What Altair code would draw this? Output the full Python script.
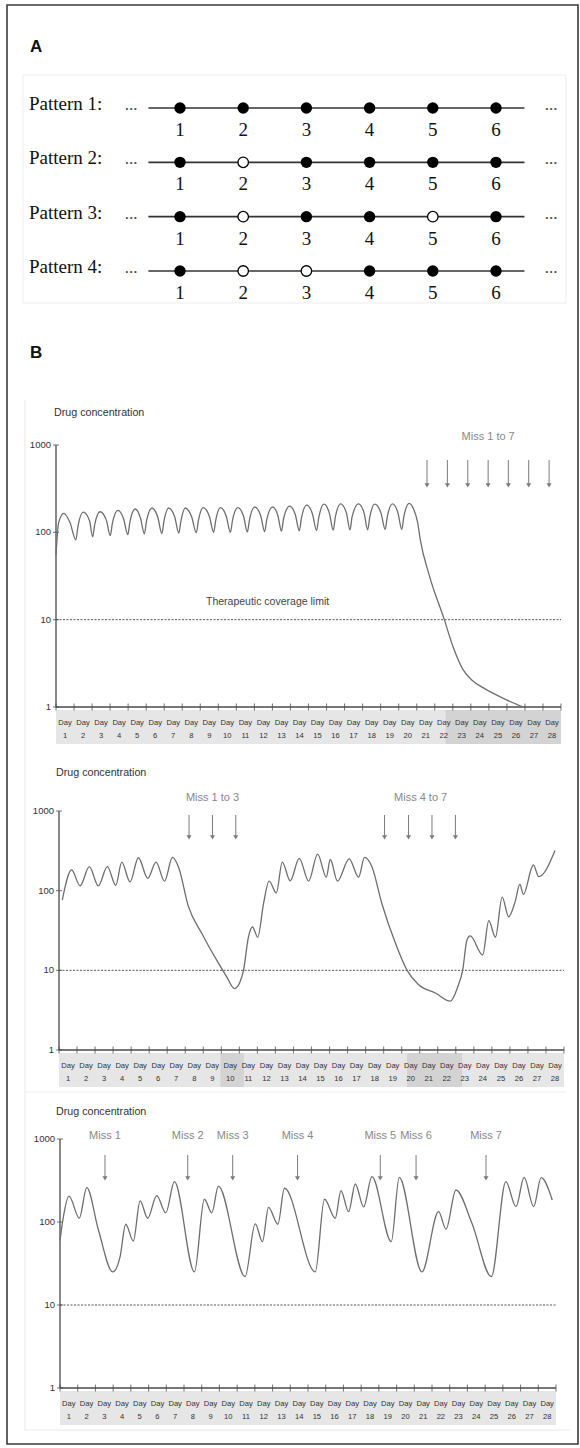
import altair as alt
import pandas as pd

# ---------------- Panel A data ----------------
pattern_names = ["Pattern 1:", "Pattern 2:", "Pattern 3:", "Pattern 4:"]
dose_numbers = [1, 2, 3, 4, 5, 6]
missed_doses = [[], [2], [2, 5], [2, 3]]
line_from_dose = 0.5
line_to_dose = 6.45

# ---------------- Panel B data ----------------
y_ticks = [1, 10, 100, 1000]
y_tick_labels = ["1", "10", "100", "1000"]
day_numbers = list(range(1, 29))
threshold = 10

# chart 1: all doses taken, then miss 1 to 7
days1 = [0.00, 0.15, 0.43, 0.78, 1.10, 1.22, 1.51, 1.86, 2.03, 2.15, 2.44, 2.79, 3.01, 3.13,
         3.43, 3.75, 3.98, 4.10, 4.39, 4.68, 4.90, 5.02, 5.32, 5.64, 5.87, 5.99, 6.24, 6.58,
         6.81, 6.93, 7.16, 7.52, 7.78, 7.90, 8.15, 8.50, 8.74, 8.86, 9.11, 9.44, 9.67, 9.79,
         10.08, 10.40, 10.61, 10.73, 11.02, 11.35, 11.57, 11.69, 12.01, 12.30, 12.50, 12.62,
         12.95, 13.27, 13.49, 13.61, 13.90, 14.22, 14.45, 14.57, 14.86, 15.16, 15.37, 15.49,
         15.78, 16.10, 16.30, 16.42, 16.77, 17.08, 17.28, 17.40, 17.67, 18.02, 18.25, 18.37,
         18.66, 18.96, 19.17, 19.29, 19.58, 19.85, 20.05, 20.20, 20.70, 21.53, 22.00, 22.56,
         23.10, 23.60, 24.20, 25.00, 25.90]
conc1 = [55, 130, 165, 129, 82, 118, 170, 136, 89, 124, 172, 138, 92, 128,
         178, 142, 94, 132, 185, 147, 96, 135, 190, 150, 97, 136, 190, 151,
         98, 136, 190, 151, 99, 138, 192, 153, 100, 139, 192, 153, 100, 139,
         192, 153, 101, 140, 195, 155, 102, 141, 195, 156, 103, 144,
         200, 159, 104, 146, 205, 162, 105, 148, 210, 165, 106, 150,
         212, 167, 107, 151, 212, 167, 107, 150, 210, 166, 108, 151,
         212, 167, 108, 152, 215, 180, 130, 82, 32, 10, 5.0, 2.7,
         2.0, 1.7, 1.45, 1.2, 1.0]
miss1_days = [20.57, 21.70, 22.83, 23.96, 25.08, 26.21, 27.34]
miss1_labels = ["Miss 1 to 7"]
miss1_label_days = [23.96]
below1_from = [21.6]
below1_to = [28.0]
limit_label = ["Therapeutic coverage limit"]
limit_label_day = [11.73]

# chart 2: miss 1 to 3, then miss 4 to 7
days2 = [0.18, 0.70, 1.17, 1.68, 2.18, 2.68, 3.15, 3.48, 3.94, 4.40, 4.92, 5.38, 5.85, 6.29,
         6.62, 7.18, 7.92, 8.84, 9.30, 9.73, 10.04, 10.23, 10.50, 10.73, 11.02, 11.34, 11.65,
         12.05, 12.38, 12.82, 13.32, 13.84, 14.34, 14.82, 15.04, 15.44, 16.09, 16.61, 16.94,
         17.35, 17.90, 18.65, 19.30, 19.94, 20.87, 21.70, 22.12, 22.38, 22.62, 22.80, 23.49,
         23.83, 24.20, 24.57, 24.93, 25.30, 25.55, 25.75, 26.30, 26.60, 27.50]
conc2 = [76, 182, 115, 200, 115, 200, 117, 228, 129, 259, 143, 228, 132, 261,
         200, 63, 29, 12.3, 8.3, 5.9, 7.2, 10, 26, 35, 26, 69, 132,
         94, 228, 133, 255, 132, 287, 148, 246, 132, 250, 148, 261,
         200, 69, 22, 10, 6.6, 5.2, 4.1, 6.3, 10, 24, 27, 15.6,
         42, 26, 83, 47, 74, 120, 90, 210, 150, 320]
miss2_days = [7.21, 8.51, 9.80, 18.05, 19.38, 20.68, 21.98]
miss2_labels = ["Miss 1 to 3", "Miss 4 to 7"]
miss2_label_days = [8.51, 20.05]
below2_from = [8.95, 19.3]
below2_to = [10.25, 22.35]

# chart 3: seven scattered misses
days3 = [0.00, 0.19, 0.51, 1.09, 1.51, 2.17, 2.98, 3.39, 3.71, 4.14, 4.52, 4.95, 5.46, 5.97,
         6.46, 7.59, 8.15, 8.57, 8.94, 10.45, 11.02, 11.43, 11.77, 12.30, 12.67, 14.41, 14.93,
         15.54, 15.86, 16.29, 16.67, 17.14, 17.61, 18.70, 19.15, 20.43, 21.37, 21.79, 22.35,
         23.26, 24.35, 25.17, 25.74, 26.20, 26.74, 27.16, 27.79]
conc3 = [60, 115, 205, 111, 259, 80, 25, 38, 94, 59, 180, 111, 208, 129,
         306, 25, 188, 129, 270, 22, 95, 58, 150, 94, 255, 25, 188,
         111, 239, 133, 287, 152, 352, 58, 345, 25, 133, 82, 243,
         96, 22, 306, 153, 345, 153, 342, 184]
miss3_days = [2.54, 7.21, 9.75, 13.41, 18.08, 20.10, 24.05]
miss3_labels = ["Miss 1", "Miss 2", "Miss 3", "Miss 4", "Miss 5", "Miss 6", "Miss 7"]
miss3_label_days = [2.54, 7.21, 9.75, 13.41, 18.08, 20.10, 24.05]
below3_from = []
below3_to = []

# ---------------- styling ----------------
SANS = "'Liberation Sans', Arial, sans-serif"
SERIF = "'Liberation Serif', 'Times New Roman', serif"
AXIS_C = "#4a4a4a"
CURVE_C = "#6e6e6e"
ARROW_C = "#7c7c7c"

ONE = pd.DataFrame({"k": [0]})


def deco_rect(x, x2, y, y2, **kw):
    return alt.Chart(ONE).mark_rect(**kw).encode(
        x=alt.value(x), x2=alt.value(x2), y=alt.value(y), y2=alt.value(y2))


def deco_hline(x, x2, y, **kw):
    return alt.Chart(ONE).mark_rule(**kw).encode(x=alt.value(x), x2=alt.value(x2), y=alt.value(y))


def deco_vline(x, y, y2, **kw):
    return alt.Chart(ONE).mark_rule(**kw).encode(x=alt.value(x), y=alt.value(y), y2=alt.value(y2))


def deco_text(x, y, text, **kw):
    return alt.Chart(pd.DataFrame({"t": [text]})).mark_text(**kw).encode(
        x=alt.value(x), y=alt.value(y), text="t:N")


layers = []

# outer frame and faint image borders
layers.append(deco_rect(7, 578, 5, 1444, fill="white", fillOpacity=0, stroke="#3a3a3a", strokeWidth=1.6))
layers.append(deco_rect(23, 566, 75, 303, fill="white", fillOpacity=0, stroke="#ededed", strokeWidth=1))
layers.append(deco_vline(25, 400, 1430, color="#e6e6e6", strokeWidth=1))
layers.append(deco_hline(25, 570, 1430, color="#e8e8e8", strokeWidth=1))
layers.append(deco_hline(25, 566, 1092, color="#eeeeee", strokeWidth=1))

# panel letters
layers.append(deco_text(30, 47, "A", font=SANS, fontSize=17, fontWeight="bold", align="left",
                        baseline="middle", color="#111"))
layers.append(deco_text(30, 353, "B", font=SANS, fontSize=17, fontWeight="bold", align="left",
                        baseline="middle", color="#111"))

# ---------------- Panel A ----------------
xa = alt.Scale(domain=[1, 6], range=[180, 496], nice=False, zero=False)
ya = alt.Scale(domain=[1, 4], range=[108, 271], nice=False, zero=False)

rows = []
for i, name in enumerate(pattern_names):
    for d in dose_numbers:
        rows.append({"row": i + 1, "dose": d, "num": str(d), "taken": d not in missed_doses[i]})
dots = pd.DataFrame(rows)
lines_a = pd.DataFrame({"row": [i + 1 for i in range(len(pattern_names))],
                        "a": line_from_dose, "b": line_to_dose,
                        "name": pattern_names})

XA = alt.X("dose:Q", scale=xa, axis=None)
YA = alt.Y("row:Q", scale=ya, axis=None)

layers.append(alt.Chart(lines_a).mark_rule(color="#333", strokeWidth=1.6).encode(
    x=alt.X("a:Q", scale=xa, axis=None), x2="b:Q", y=YA))
layers.append(alt.Chart(dots[dots.taken]).mark_circle(color="#000", size=130, opacity=1).encode(x=XA, y=YA))
layers.append(alt.Chart(dots[~dots.taken]).mark_circle(fill="white", stroke="#000", strokeWidth=1.3,
                                                       size=110, opacity=1).encode(x=XA, y=YA))
layers.append(alt.Chart(dots).mark_text(font=SERIF, fontSize=19, color="#111", baseline="alphabetic",
                                        dy=28).encode(x=XA, y=YA, text="num:N"))
layers.append(alt.Chart(lines_a).mark_text(font=SERIF, fontSize=19, color="#111", align="left",
                                           baseline="alphabetic", dy=2).encode(
    x=alt.value(29), y=YA, text="name:N"))
dots_txt = pd.DataFrame({"row": [i + 1 for i in range(len(pattern_names))], "t": "..."})
layers.append(alt.Chart(dots_txt).mark_text(font=SERIF, fontSize=17, color="#444", align="center",
                                            baseline="alphabetic", dy=2).encode(
    x=alt.value(131), y=YA, text="t:N"))
layers.append(alt.Chart(dots_txt).mark_text(font=SERIF, fontSize=17, color="#444", align="center",
                                            baseline="alphabetic", dy=2).encode(
    x=alt.value(551), y=YA, text="t:N"))


# ---------------- Panel B ----------------
def conc_layers(x0, x1, ytop, ybot, days, conc, miss_days, miss_labels, miss_label_days,
                below_from, below_to, title_x, title_y, label_y, arrow_top, arrow_tip,
                extra_label=None, extra_day=None):
    xs = alt.Scale(domain=[0, 28], range=[x0, x1], nice=False, zero=False)
    ys = alt.Scale(type="log", domain=[1, 1000], range=[ybot, ytop], nice=False)

    def X(f):
        return alt.X(f, type="quantitative", scale=xs, axis=None)

    def Y(f):
        return alt.Y(f, type="quantitative", scale=ys, axis=None)

    out = []
    # day label band
    out.append(alt.Chart(pd.DataFrame({"a": [0], "b": [28]})).mark_rect(color="#e6e6e6").encode(
        x=X("a"), x2="b:Q", y=alt.value(ybot + 3), y2=alt.value(ybot + 37)))
    if below_from:
        out.append(alt.Chart(pd.DataFrame({"a": below_from, "b": below_to})).mark_rect(color="#d3d3d3").encode(
            x=X("a"), x2="b:Q", y=alt.value(ybot + 3), y2=alt.value(ybot + 37)))
    labs = pd.DataFrame({"mid": [d - 0.5 for d in day_numbers],
                         "lab": ["Day\n" + str(d) for d in day_numbers]})
    out.append(alt.Chart(labs).mark_text(font=SANS, fontSize=7.6, color="#333", lineBreak="\n",
                                         lineHeight=13, baseline="top", align="center").encode(
        x=X("mid"), y=alt.value(ybot + 12), text="lab:N"))
    # threshold
    out.append(alt.Chart(pd.DataFrame({"a": [0], "b": [28], "c": [threshold]})).mark_rule(
        color="#555", strokeWidth=1, strokeDash=[2, 1.5]).encode(x=X("a"), x2="b:Q", y=Y("c")))
    # axes
    out.append(alt.Chart(pd.DataFrame({"x": [0], "y1": [1], "y2": [1000]})).mark_rule(
        color=AXIS_C, strokeWidth=1.3).encode(x=X("x"), y=Y("y1"), y2="y2:Q"))
    out.append(alt.Chart(pd.DataFrame({"a": [0], "b": [28], "y": [1]})).mark_rule(
        color=AXIS_C, strokeWidth=1.5).encode(x=X("a"), x2="b:Q", y=Y("y")))
    out.append(alt.Chart(pd.DataFrame({"d": list(range(0, 29)), "y": 1})).mark_tick(
        orient="vertical", size=7, thickness=1.1, color=AXIS_C).encode(x=X("d"), y=Y("y")))
    yt = pd.DataFrame({"x": 0, "v": y_ticks, "lab": y_tick_labels})
    out.append(alt.Chart(yt).mark_tick(orient="horizontal", size=6, thickness=1.1, color=AXIS_C).encode(
        x=X("x"), y=Y("v")))
    out.append(alt.Chart(yt).mark_text(font=SANS, fontSize=9.5, color="#333", align="right",
                                       baseline="middle", dx=-5).encode(x=X("x"), y=Y("v"), text="lab:N"))
    # curve
    out.append(alt.Chart(pd.DataFrame({"day": days, "conc": conc})).mark_line(
        interpolate="monotone", color=CURVE_C, strokeWidth=1.3).encode(x=X("day"), y=Y("conc")))
    # arrows
    md = pd.DataFrame({"d": miss_days})
    out.append(alt.Chart(md).mark_rule(color=ARROW_C, strokeWidth=1).encode(
        x=X("d"), y=alt.value(arrow_top), y2=alt.value(arrow_tip - 4)))
    out.append(alt.Chart(md).mark_point(shape="triangle-down", filled=True, size=26, color=ARROW_C,
                                        opacity=1).encode(x=X("d"), y=alt.value(arrow_tip - 2.6)))
    out.append(alt.Chart(pd.DataFrame({"d": miss_label_days, "t": miss_labels})).mark_text(
        font=SANS, fontSize=11, color="#888", align="center", baseline="middle").encode(
        x=X("d"), y=alt.value(label_y), text="t:N"))
    # title
    out.append(deco_text(title_x, title_y, "Drug concentration", font=SANS, fontSize=10.7,
                         color="#333", align="left", baseline="middle"))
    if extra_label:
        out.append(alt.Chart(pd.DataFrame({"d": extra_day, "c": threshold, "t": extra_label})).mark_text(
            font=SANS, fontSize=10.5, color="#444", align="center", baseline="middle", dy=-18).encode(
            x=X("d"), y=Y("c"), text="t:N"))
    return out


layers += conc_layers(56, 561, 445, 707, days1, conc1, miss1_days, miss1_labels, miss1_label_days,
                      below1_from, below1_to, 54, 413, 437, 460, 488,
                      extra_label=limit_label, extra_day=limit_label_day)
layers += conc_layers(59, 564, 811, 1050, days2, conc2, miss2_days, miss2_labels, miss2_label_days,
                      below2_from, below2_to, 56, 773, 798, 815, 840)
layers += conc_layers(60, 556, 1139, 1388, days3, conc3, miss3_days, miss3_labels, miss3_label_days,
                      below3_from, below3_to, 56, 1112, 1136, 1155, 1181)

chart = alt.layer(*layers).resolve_scale(x="independent", y="independent").properties(
    width=580, height=1448, padding=0, background="white",
    autosize=alt.AutoSizeParams(type="none")
).configure_view(stroke=None)

chart.save("out.html", embed_options={"renderer": "svg", "actions": False})
